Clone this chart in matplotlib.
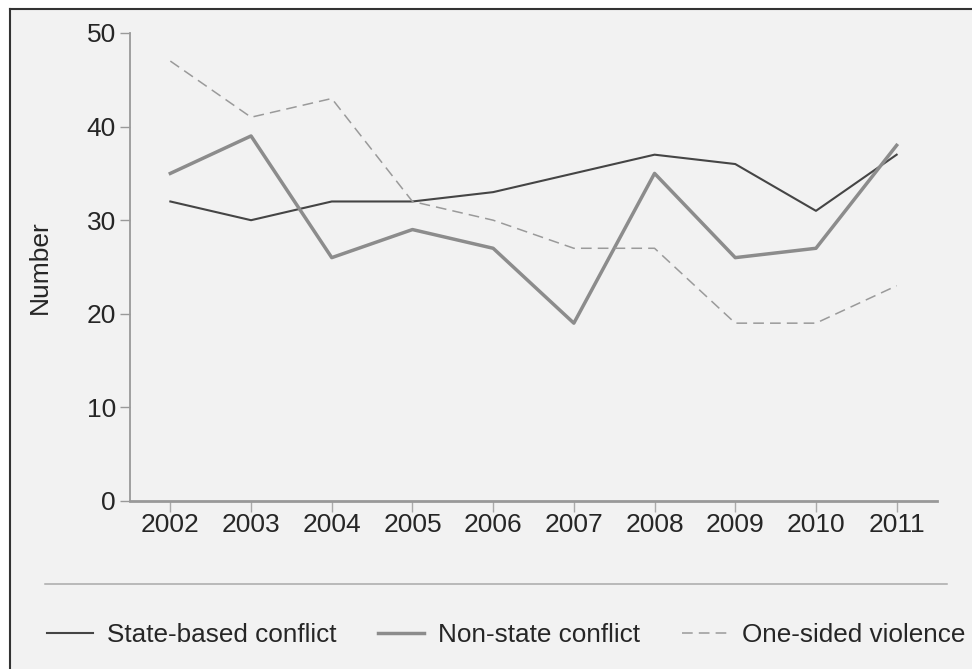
import matplotlib.pyplot as plt
from matplotlib.lines import Line2D
from matplotlib.patches import Rectangle

plt.rcParams['font.family'] = ['Liberation Sans', 'DejaVu Sans']

years = [2002, 2003, 2004, 2005, 2006, 2007, 2008, 2009, 2010, 2011]
state_based = [32, 30, 32, 32, 33, 35, 37, 36, 31, 37]
non_state = [35, 39, 26, 29, 27, 19, 35, 26, 27, 38]
one_sided = [47, 41, 43, 32, 30, 27, 27, 19, 19, 23]

W, H = 972, 669
fig = plt.figure(figsize=(W / 100, H / 100), dpi=100, facecolor='white')

# grey panel with a dark frame on the top and left
fig.patches.append(Rectangle((10 / W, 0), 1, 1 - 9 / H, transform=fig.transFigure,
                             facecolor='#f2f2f2', edgecolor='none', zorder=-5))
fig.add_artist(Line2D([10 / W, 10 / W], [0, 1 - 9 / H], transform=fig.transFigure,
                      color='#333333', lw=1.5))
fig.add_artist(Line2D([10 / W, 1], [1 - 9 / H, 1 - 9 / H], transform=fig.transFigure,
                      color='#333333', lw=1.5))
# separator above the legend
fig.add_artist(Line2D([45 / W, 947 / W], [1 - 584 / H, 1 - 584 / H], transform=fig.transFigure,
                      color='#aaaaaa', lw=1.1))

ax = fig.add_axes([130 / W, 1 - 501 / H, (937 - 130) / W, (501 - 33) / H])
ax.set_facecolor('none')
ax.set_zorder(2)

ax.plot(years, state_based, color='#454545', lw=1.5, label='State-based conflict')
ax.plot(years, non_state, color='#8c8c8c', lw=2.5, label='Non-state conflict')
ax.plot(years, one_sided, color='#9a9a9a', lw=1.1, dashes=(7, 4), label='One-sided violence')

ax.set_xlim(2001.5, 2011.5)
ax.set_ylim(0, 50)
ax.set_xticks(years)
ax.set_yticks([0, 10, 20, 30, 40, 50])

for side in ['top', 'right']:
    ax.spines[side].set_visible(False)
ax.spines['left'].set_color('#999999')
ax.spines['left'].set_linewidth(1.3)
ax.spines['bottom'].set_color('#999999')
ax.spines['bottom'].set_linewidth(2)

ax.tick_params(axis='y', length=7, width=1, color='#999999', labelsize=19,
               labelcolor='#262626', pad=3)
ax.tick_params(axis='x', length=8, width=1, color='#aaaaaa', labelsize=19,
               labelcolor='#262626', pad=1)

ax.set_ylabel('Number', fontsize=19, color='#262626')
ax.yaxis.set_label_coords(-0.097, 0.5)

fig.legend(loc='center left', bbox_to_anchor=(47 / W, 1 - 635 / H), ncol=3,
           frameon=False, fontsize=18.8, handlelength=1.75, handletextpad=0.55,
           columnspacing=1.6, borderpad=0, borderaxespad=0, labelcolor='#262626')

plt.savefig('out.png', dpi=100, facecolor='white')
